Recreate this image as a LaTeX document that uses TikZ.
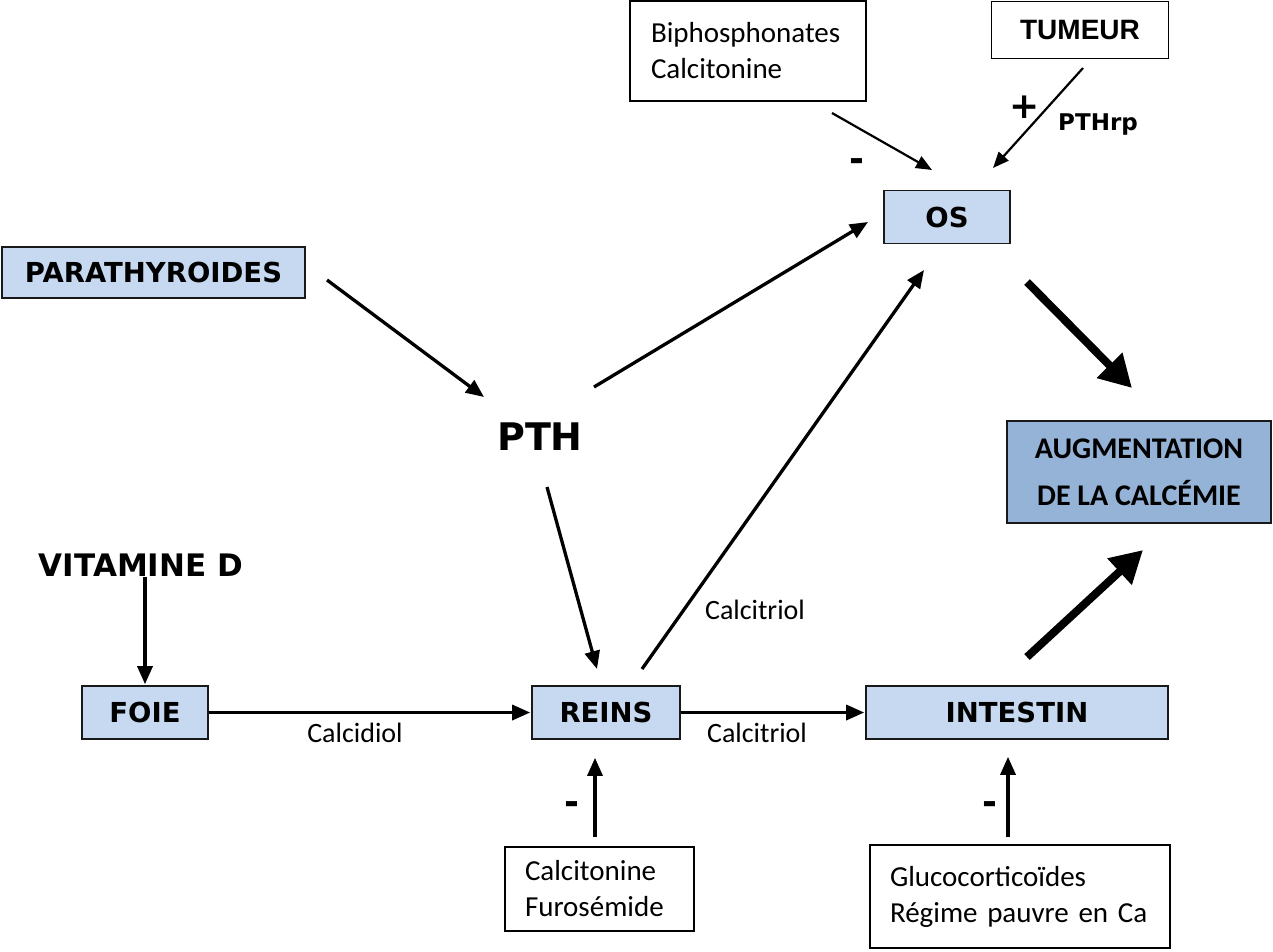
\documentclass[tikz,border=0pt]{standalone}
\usepackage{fontspec}
\setmainfont{Carlito}
\newfontfamily\verd{DejaVu Sans}
\newfontfamily\arialf{Liberation Sans}
\usetikzlibrary{arrows.meta,calc}
\definecolor{lblue}{HTML}{C6D9F1}
\definecolor{dblue}{HTML}{95B3D7}
\begin{document}
\begin{tikzpicture}[x=1pt,y=-1pt,
  bluebox/.style={draw=black!90, line width=1.6pt, fill=lblue, minimum height=53pt, inner sep=0pt,
    font=\verd\bfseries\fontsize{27.5}{32}\selectfont},
  wbox/.style={draw=black, line width=1.4pt, fill=white, align=left, inner ysep=0pt,
    font=\fontsize{29}{36}\selectfont},
  arr/.style={line width=3.3pt, -{Triangle[length=18pt,width=15pt]}},
  tarr/.style={line width=2.2pt, -{Triangle[length=16pt,width=13pt]}},
  bigarr/.style={line width=8pt, -{Triangle[length=32pt,width=34pt]}},
  sign/.style={font=\verd\bfseries\fontsize{36}{36}\selectfont, inner sep=0pt},
  lbl/.style={font=\fontsize{28}{34}\selectfont, inner sep=0pt},
]
\useasboundingbox (0,0) rectangle (1273,951);

% boxes
\node[wbox, minimum height=100pt, text width=194pt, inner xsep=21pt] (bip) at (748,51) {Biphosphonates\\Calcitonine};
\node[draw=black, line width=1.4pt, minimum width=177pt, minimum height=57pt, inner sep=0pt,
  font=\arialf\bfseries\fontsize{28}{32}\selectfont] (tum) at (1080,30) {TUMEUR};
\node[bluebox, minimum width=126pt] (os) at (947,217) {OS};
\node[bluebox, minimum width=303pt, minimum height=51pt] (para) at (153.5,272.5) {PARATHYROIDES};
\node[font=\verd\bfseries\fontsize{38}{40}\selectfont, inner sep=0pt] (pth) at (540,437) {PTH};
\node[draw=black!90, line width=1.6pt, fill=dblue, minimum width=264pt, minimum height=102pt, align=center,
  inner sep=0pt, font=\bfseries\fontsize{30}{47}\selectfont] (aug) at (1139,472) {AUGMENTATION\\DE LA CALCÉMIE};
\node[font=\verd\bfseries\fontsize{31}{34}\selectfont, inner sep=0pt] (vit) at (141,565) {VITAMINE D};
\node[bluebox, minimum width=126pt] (foie) at (145,712.5) {FOIE};
\node[bluebox, minimum width=148pt] (reins) at (606,712.5) {REINS};
\node[bluebox, minimum width=302pt] (intes) at (1017,712.5) {INTESTIN};
\node[wbox, minimum height=84pt, text width=149pt, inner xsep=20pt] (calc) at (599.5,889) {Calcitonine\\Furosémide};
\node[wbox, minimum height=103pt, text width=260pt, inner xsep=20pt] (gluc) at (1020,896.5) {Glucocorticoïdes\\Régime pauvre en Ca};

% labels
\node[sign] (m1) at (857,165) {-};
\node[sign] (p1) at (1025,107) {+};
\node[font=\verd\bfseries\fontsize{23}{26}\selectfont, inner sep=0pt] (pthrp) at (1098,125) {PTHrp};
\node[sign] (m2) at (572,808) {-};
\node[sign] (m3) at (990,808) {-};
\node[lbl] (l1) at (355,733) {Calcidiol};
\node[lbl] (l2) at (757,733) {Calcitriol};
\node[lbl] (l3) at (755,610) {Calcitriol};

% arrows
\draw[tarr] ($(bip)+(84,62)$) -- ($(os)+(-15,-47)$);
\draw[tarr] ($(tum)+(3,38)$) -- ($(os)+(46,-49)$);
\draw[arr] ($(para)+(173.5,7.5)$) -- ($(pth)+(-56,-40)$);
\draw[arr] ($(pth)+(54,-50)$) -- ($(os)+(-79,5)$);
\draw[arr] ($(pth)+(7,50)$) -- ($(reins)+(-9,-43.5)$);
\draw[arr] ($(reins)+(36,-43.5)$) -- ($(os)+(-23,53)$);
\draw[bigarr] ($(os)+(80,65)$) -- ($(aug)+(-7,-84)$);
\draw[bigarr] ($(intes)+(10,-55.5)$) -- ($(aug)+(4,78)$);
\draw[arr, shorten >=1pt] (vit.south -| foie.north) -- (foie.north);
\draw[arr, shorten >=1pt] (foie.east) -- (reins.west);
\draw[arr, shorten >=1pt] (reins.east) -- (intes.west);
\draw[arr] ($(calc.north)+(-4.5,-9)$) -- ($(reins.south)+(-11,18)$);
\draw[arr] ($(gluc.north)+(-12,-7)$) -- ($(intes.south)+(-9,17)$);
\end{tikzpicture}
\end{document}
